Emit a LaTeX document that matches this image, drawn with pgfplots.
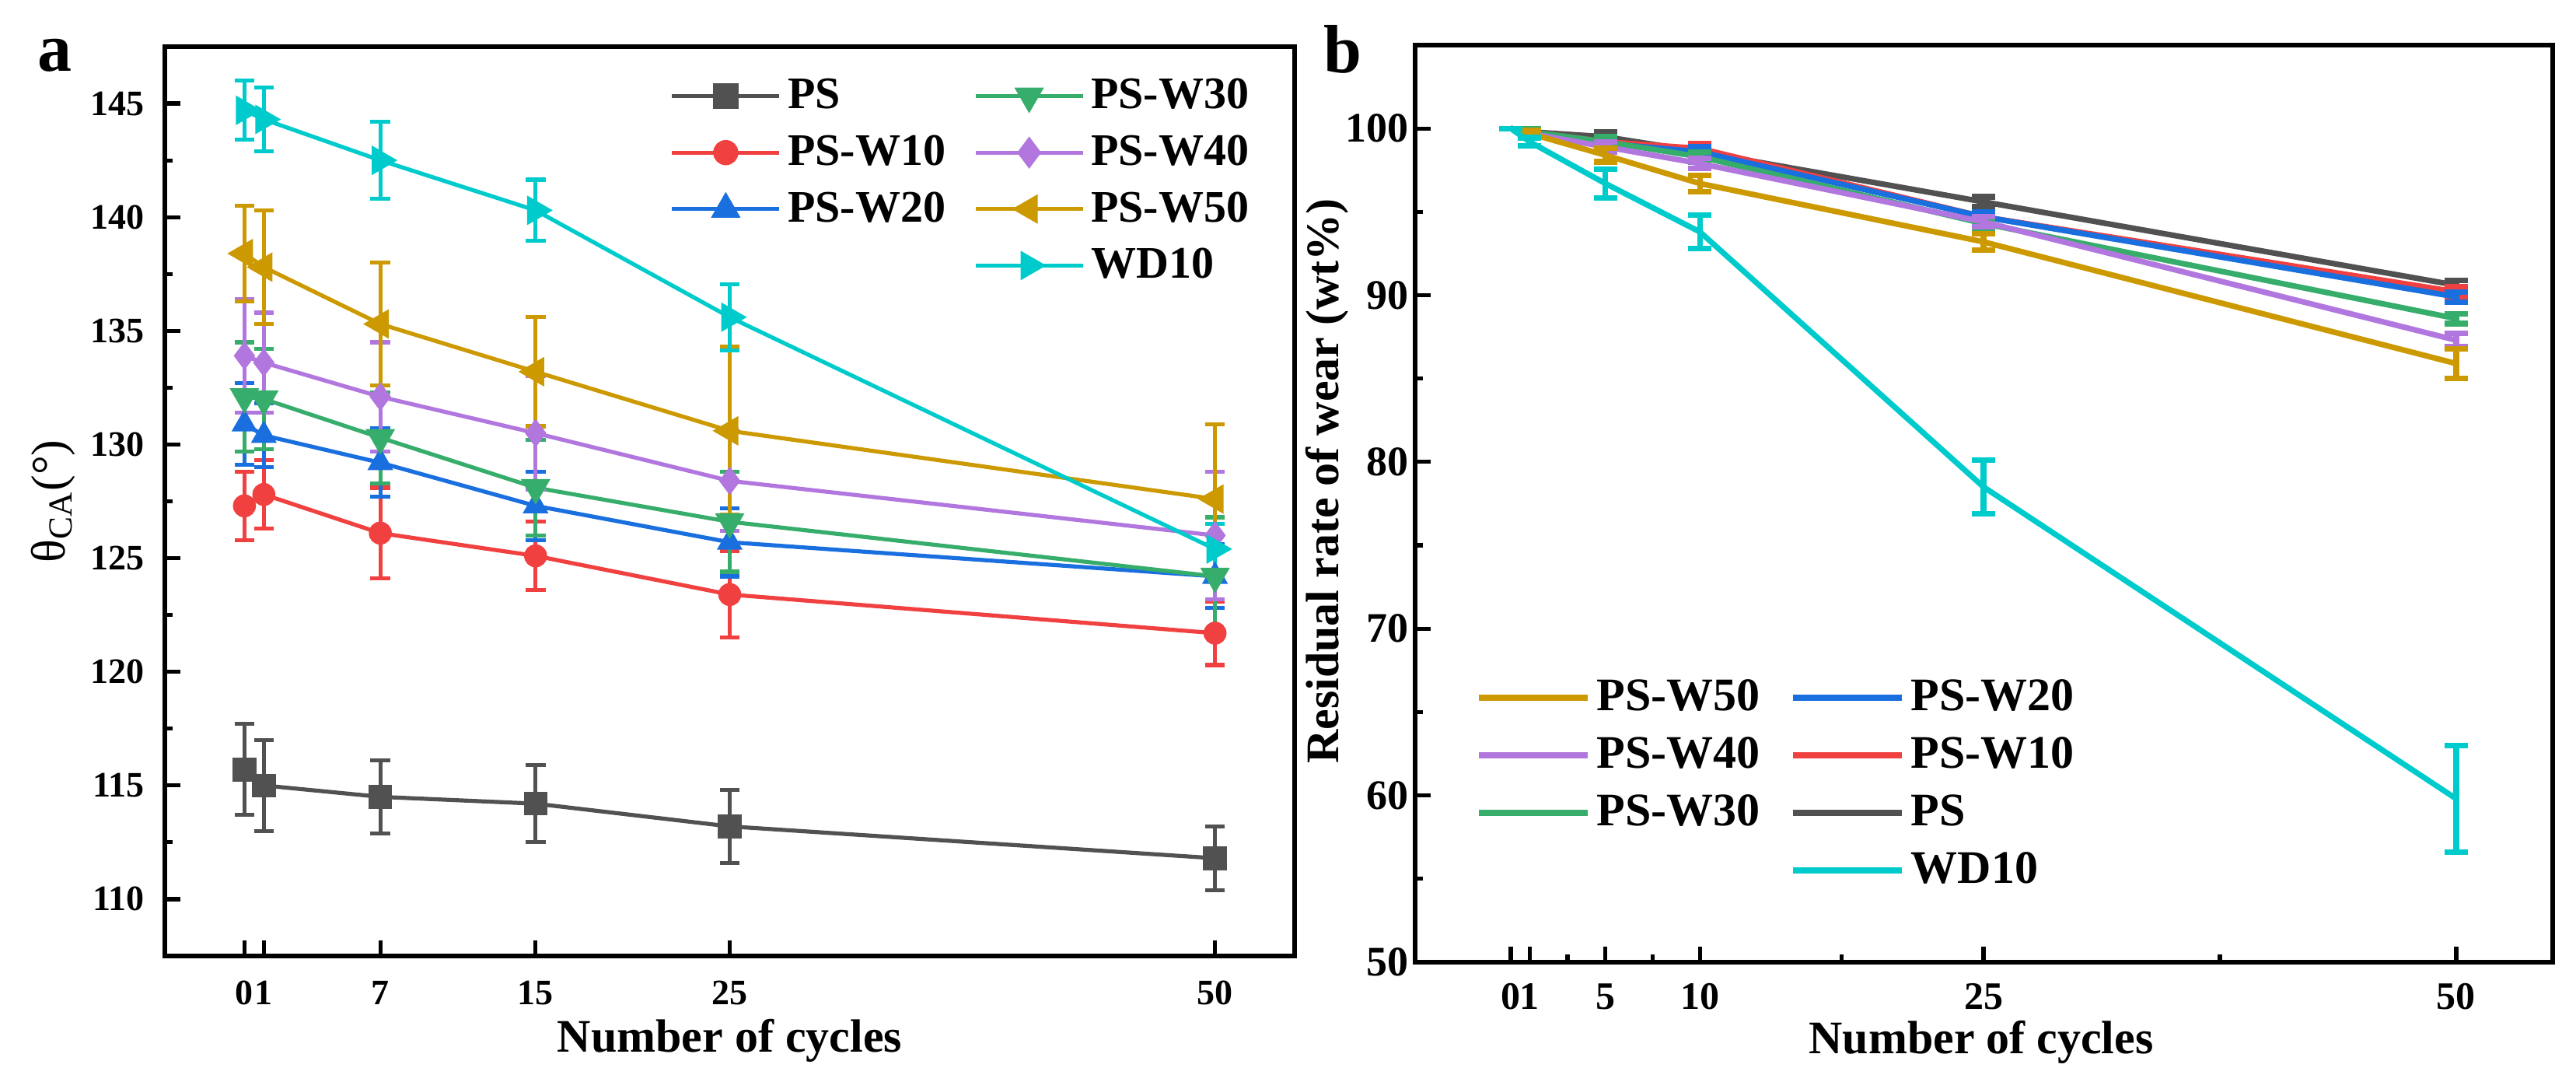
\documentclass[border=0pt]{standalone}
\usepackage{fontspec}
\setmainfont{Liberation Serif}
\usepackage{pgfplots}
\pgfplotsset{compat=1.18}
\definecolor{cPS}{HTML}{515151}
\definecolor{cWa}{HTML}{F14040}
\definecolor{cWb}{HTML}{1A6FDF}
\definecolor{cWc}{HTML}{37AD6B}
\definecolor{cWd}{HTML}{B177DE}
\definecolor{cWe}{HTML}{CC9900}
\definecolor{cWD}{HTML}{00CBCC}
\pgfplotsset{
  pa/.style={line width=1.3pt, mark options={solid, line width=0.6pt},
    error bars/y dir=both, error bars/y explicit,
    error bars/error bar style={line width=1.3pt},
    error bars/error mark options={rotate=90, line width=1.3pt, mark size=3.2pt}},
  pb/.style={line width=1.8pt, no marks,
    error bars/y dir=both, error bars/y explicit,
    error bars/error bar style={line width=1.8pt},
    error bars/error mark options={rotate=90, line width=1.8pt, mark size=3.75pt}},
}
\begin{document}
\begin{tikzpicture}
\useasboundingbox (0,0) rectangle (828.25pt,350pt);
\node[anchor=base west, font=\fontsize{22}{24}\selectfont\bfseries, inner sep=0pt] at (12pt,327pt) {a};
\node[anchor=base west, font=\fontsize{22}{24}\selectfont\bfseries, inner sep=0pt] at (425.5pt,326.5pt) {b};
% ---------------- panel a
\begin{axis}[
  at={(53pt,42.75pt)}, anchor=south west, scale only axis,
  width=363.25pt, height=292.25pt,
  xmin=-4.1, xmax=54.1, ymin=107.5, ymax=147.5,
  xtick={0,1,7,15,25,50},
  ytick={110,115,...,145}, minor ytick={112.5,117.5,...,142.5},
  tick pos=left, tick align=inside,
  major tick length=5pt, minor tick length=2.5pt,
  every tick/.style={black, line width=1.3pt},
  axis line style={line width=1.6pt},
  /pgf/number format/assume math mode=true,
  ticklabel style={font=\fontsize{11.5}{12}\selectfont\bfseries},
  xticklabel style={yshift=-4.5pt},
  yticklabel style={xshift=-3pt},
  xlabel={Number of cycles},
  ylabel={θ\textsubscript{CA}(°)},
  xlabel style={font=\fontsize{15}{16}\selectfont\bfseries, at={(axis description cs:0.5,-0.106)}, anchor=base},
  ylabel style={font=\fontsize{15.5}{16}\selectfont, at={(axis description cs:-0.099,0.5)}, anchor=center},
  legend columns=2,
  legend cell align=left,
  legend image code/.code={\draw[mark repeat=2,mark phase=2] plot coordinates {(0pt,0pt)(17.25pt,0pt)(34.5pt,0pt)};},
  legend style={draw=none, fill=none, at={(axis description cs:0.4384,0.979)}, anchor=north west,
    font=\fontsize{14.5}{15}\selectfont\bfseries, row sep=3pt,
    /tikz/every even column/.append style={column sep=7pt}},
]
\addplot[pa, forget plot, color=cPS, mark=square*, mark size=3.5pt] coordinates {
 (0,115.7) +- (0,2.0) (1,115.0) +- (0,2.0) (7,114.5) +- (0,1.6)
 (15,114.2) +- (0,1.7) (25,113.2) +- (0,1.6) (50,111.8) +- (0,1.4)};
\addplot[pa, forget plot, color=cWa, mark=*, mark size=3.4pt] coordinates {
 (0,127.3) +- (0,1.5) (1,127.8) +- (0,1.5) (7,126.1) +- (0,2.0)
 (15,125.1) +- (0,1.5) (25,123.4) +- (0,1.9) (50,121.7) +- (0,1.4)};
\addplot[pa, forget plot, color=cWb, mark=triangle*, mark size=4.2pt] coordinates {
 (0,130.9) +- (0,1.8) (1,130.4) +- (0,1.4) (7,129.2) +- (0,1.5)
 (15,127.3) +- (0,1.5) (25,125.7) +- (0,1.5) (50,124.2) +- (0,1.4)};
\addplot[pa, forget plot, color=cWc, mark=triangle*, mark size=4.2pt, mark options={rotate=180}] coordinates {
 (0,132.1) +- (0,2.4) (1,132.0) +- (0,2.2) (7,130.3) +- (0,2.0)
 (15,128.1) +- (0,2.1) (25,126.6) +- (0,2.2) (50,124.2) +- (0,2.6)};
\addplot[pa, forget plot, color=cWd, mark=diamond*, mark size=4.1pt] coordinates {
 (0,133.9) +- (0,2.5) (1,133.6) +- (0,2.2) (7,132.1) +- (0,2.4)
 (15,130.5) +- (0,2.5) (25,128.4) +- (0,2.2) (50,126.0) +- (0,2.8)};
\addplot[pa, forget plot, color=cWe, mark=triangle*, mark size=4.2pt, mark options={rotate=90}] coordinates {
 (0,138.4) +- (0,2.1) (1,137.8) +- (0,2.5) (7,135.3) +- (0,2.7)
 (15,133.2) +- (0,2.4) (25,130.6) +- (0,3.7) (50,127.6) +- (0,3.3)};
\addplot[pa, forget plot, color=cWD, mark=triangle*, mark size=4.2pt, mark options={rotate=-90}] coordinates {
 (0,144.7) +- (0,1.3) (1,144.3) +- (0,1.4) (7,142.5) +- (0,1.7)
 (15,140.3) +- (0,1.35) (25,135.6) +- (0,1.45) (50,125.4) +- (0,1.1)};
\addlegendimage{color=cPS, line width=1.3pt, mark=square*, mark size=3.5pt, mark options={solid}}
\addlegendentry{PS}
\addlegendimage{color=cWc, line width=1.3pt, mark=triangle*, mark size=4.2pt, mark options={solid,rotate=180}}
\addlegendentry{PS-W30}
\addlegendimage{color=cWa, line width=1.3pt, mark=*, mark size=3.4pt, mark options={solid}}
\addlegendentry{PS-W10}
\addlegendimage{color=cWd, line width=1.3pt, mark=diamond*, mark size=4.1pt, mark options={solid}}
\addlegendentry{PS-W40}
\addlegendimage{color=cWb, line width=1.3pt, mark=triangle*, mark size=4.2pt, mark options={solid}}
\addlegendentry{PS-W20}
\addlegendimage{color=cWe, line width=1.3pt, mark=triangle*, mark size=4.2pt, mark options={solid,rotate=90}}
\addlegendentry{PS-W50}
\addlegendimage{empty legend}
\addlegendentry{}
\addlegendimage{color=cWD, line width=1.3pt, mark=triangle*, mark size=4.2pt, mark options={solid,rotate=-90}}
\addlegendentry{WD10}
\end{axis}
% ---------------- panel b
\begin{axis}[
  at={(455pt,40.75pt)}, anchor=south west, scale only axis,
  width=365.75pt, height=294.75pt,
  xmin=-5.06, xmax=55.1, ymin=50, ymax=105,
  xtick={0,1,5,10,25,50}, minor xtick={3,7.5,17.5,37.5},
  ytick={50,60,...,100}, minor ytick={55,65,...,95},
  tick pos=left, tick align=inside,
  major tick length=5pt, minor tick length=2.5pt,
  every tick/.style={black, line width=1.3pt},
  axis line style={line width=1.6pt},
  /pgf/number format/assume math mode=true,
  xticklabel style={font=\fontsize{12.5}{13}\selectfont\bfseries, yshift=-3.3pt},
  yticklabel style={font=\fontsize{13.5}{14}\selectfont\bfseries, xshift=1.5pt},
  xlabel={Number of cycles},
  ylabel={Residual rate of wear (wt\%)},
  xlabel style={font=\fontsize{15}{16}\selectfont\bfseries, at={(axis description cs:0.4976,-0.100)}, anchor=base},
  ylabel style={font=\fontsize{15}{16}\selectfont\bfseries, at={(axis description cs:-0.0772,0.5246)}, anchor=center},
  legend columns=2,
  legend cell align=left,
  legend image code/.code={\draw[line width=2pt] (0pt,0pt) -- (35pt,0pt);},
  legend style={draw=none, fill=none, at={(axis description cs:0.0444,0.3221)}, anchor=north west,
    font=\fontsize{15}{16}\selectfont\bfseries, row sep=3pt,
    /tikz/every even column/.append style={column sep=7.5pt}},
]
\addplot[pb, forget plot, color=cPS] coordinates {
 (0,100) +- (0,0) (1,99.8) +- (0,0.2) (5,99.5) +- (0,0.3)
 (10,98.6) +- (0,0.3) (25,95.6) +- (0,0.3) (50,90.6) +- (0,0.3)};
\addplot[pb, forget plot, color=cWa] coordinates {
 (0,100) +- (0,0) (1,99.8) +- (0,0.2) (5,99.2) +- (0,0.3)
 (10,98.8) +- (0,0.3) (25,94.7) +- (0,0.3) (50,90.2) +- (0,0.3)};
\addplot[pb, forget plot, color=cWb] coordinates {
 (0,100) +- (0,0) (1,99.8) +- (0,0.2) (5,99.1) +- (0,0.3)
 (10,98.6) +- (0,0.3) (25,94.7) +- (0,0.3) (50,89.9) +- (0,0.3)};
\addplot[pb, forget plot, color=cWc] coordinates {
 (0,100) +- (0,0) (1,99.8) +- (0,0.2) (5,99.2) +- (0,0.3)
 (10,98.3) +- (0,0.3) (25,94.3) +- (0,0.3) (50,88.6) +- (0,0.3)};
\addplot[pb, forget plot, color=cWd] coordinates {
 (0,100) +- (0,0) (1,99.7) +- (0,0.2) (5,98.9) +- (0,0.3)
 (10,97.9) +- (0,0.3) (25,94.4) +- (0,0.3) (50,87.3) +- (0,0.4)};
\addplot[pb, forget plot, color=cWe] coordinates {
 (0,100) +- (0,0) (1,99.7) +- (0,0.2) (5,98.4) +- (0,0.4)
 (10,96.7) +- (0,0.5) (25,93.2) +- (0,0.5) (50,85.9) +- (0,0.9)};
\addplot[pb, forget plot, color=cWD] coordinates {
 (0,100) +- (0,0) (1,99.2) +- (0,0.25) (5,96.7) +- (0,0.85)
 (10,93.8) +- (0,1.0) (25,78.5) +- (0,1.6) (50,59.8) +- (0,3.2)};
\addlegendimage{color=cWe}\addlegendentry{PS-W50}
\addlegendimage{color=cWb}\addlegendentry{PS-W20}
\addlegendimage{color=cWd}\addlegendentry{PS-W40}
\addlegendimage{color=cWa}\addlegendentry{PS-W10}
\addlegendimage{color=cWc}\addlegendentry{PS-W30}
\addlegendimage{color=cPS}\addlegendentry{PS}
\addlegendimage{empty legend}\addlegendentry{}
\addlegendimage{color=cWD}\addlegendentry{WD10}
\end{axis}
\end{tikzpicture}
\end{document}
